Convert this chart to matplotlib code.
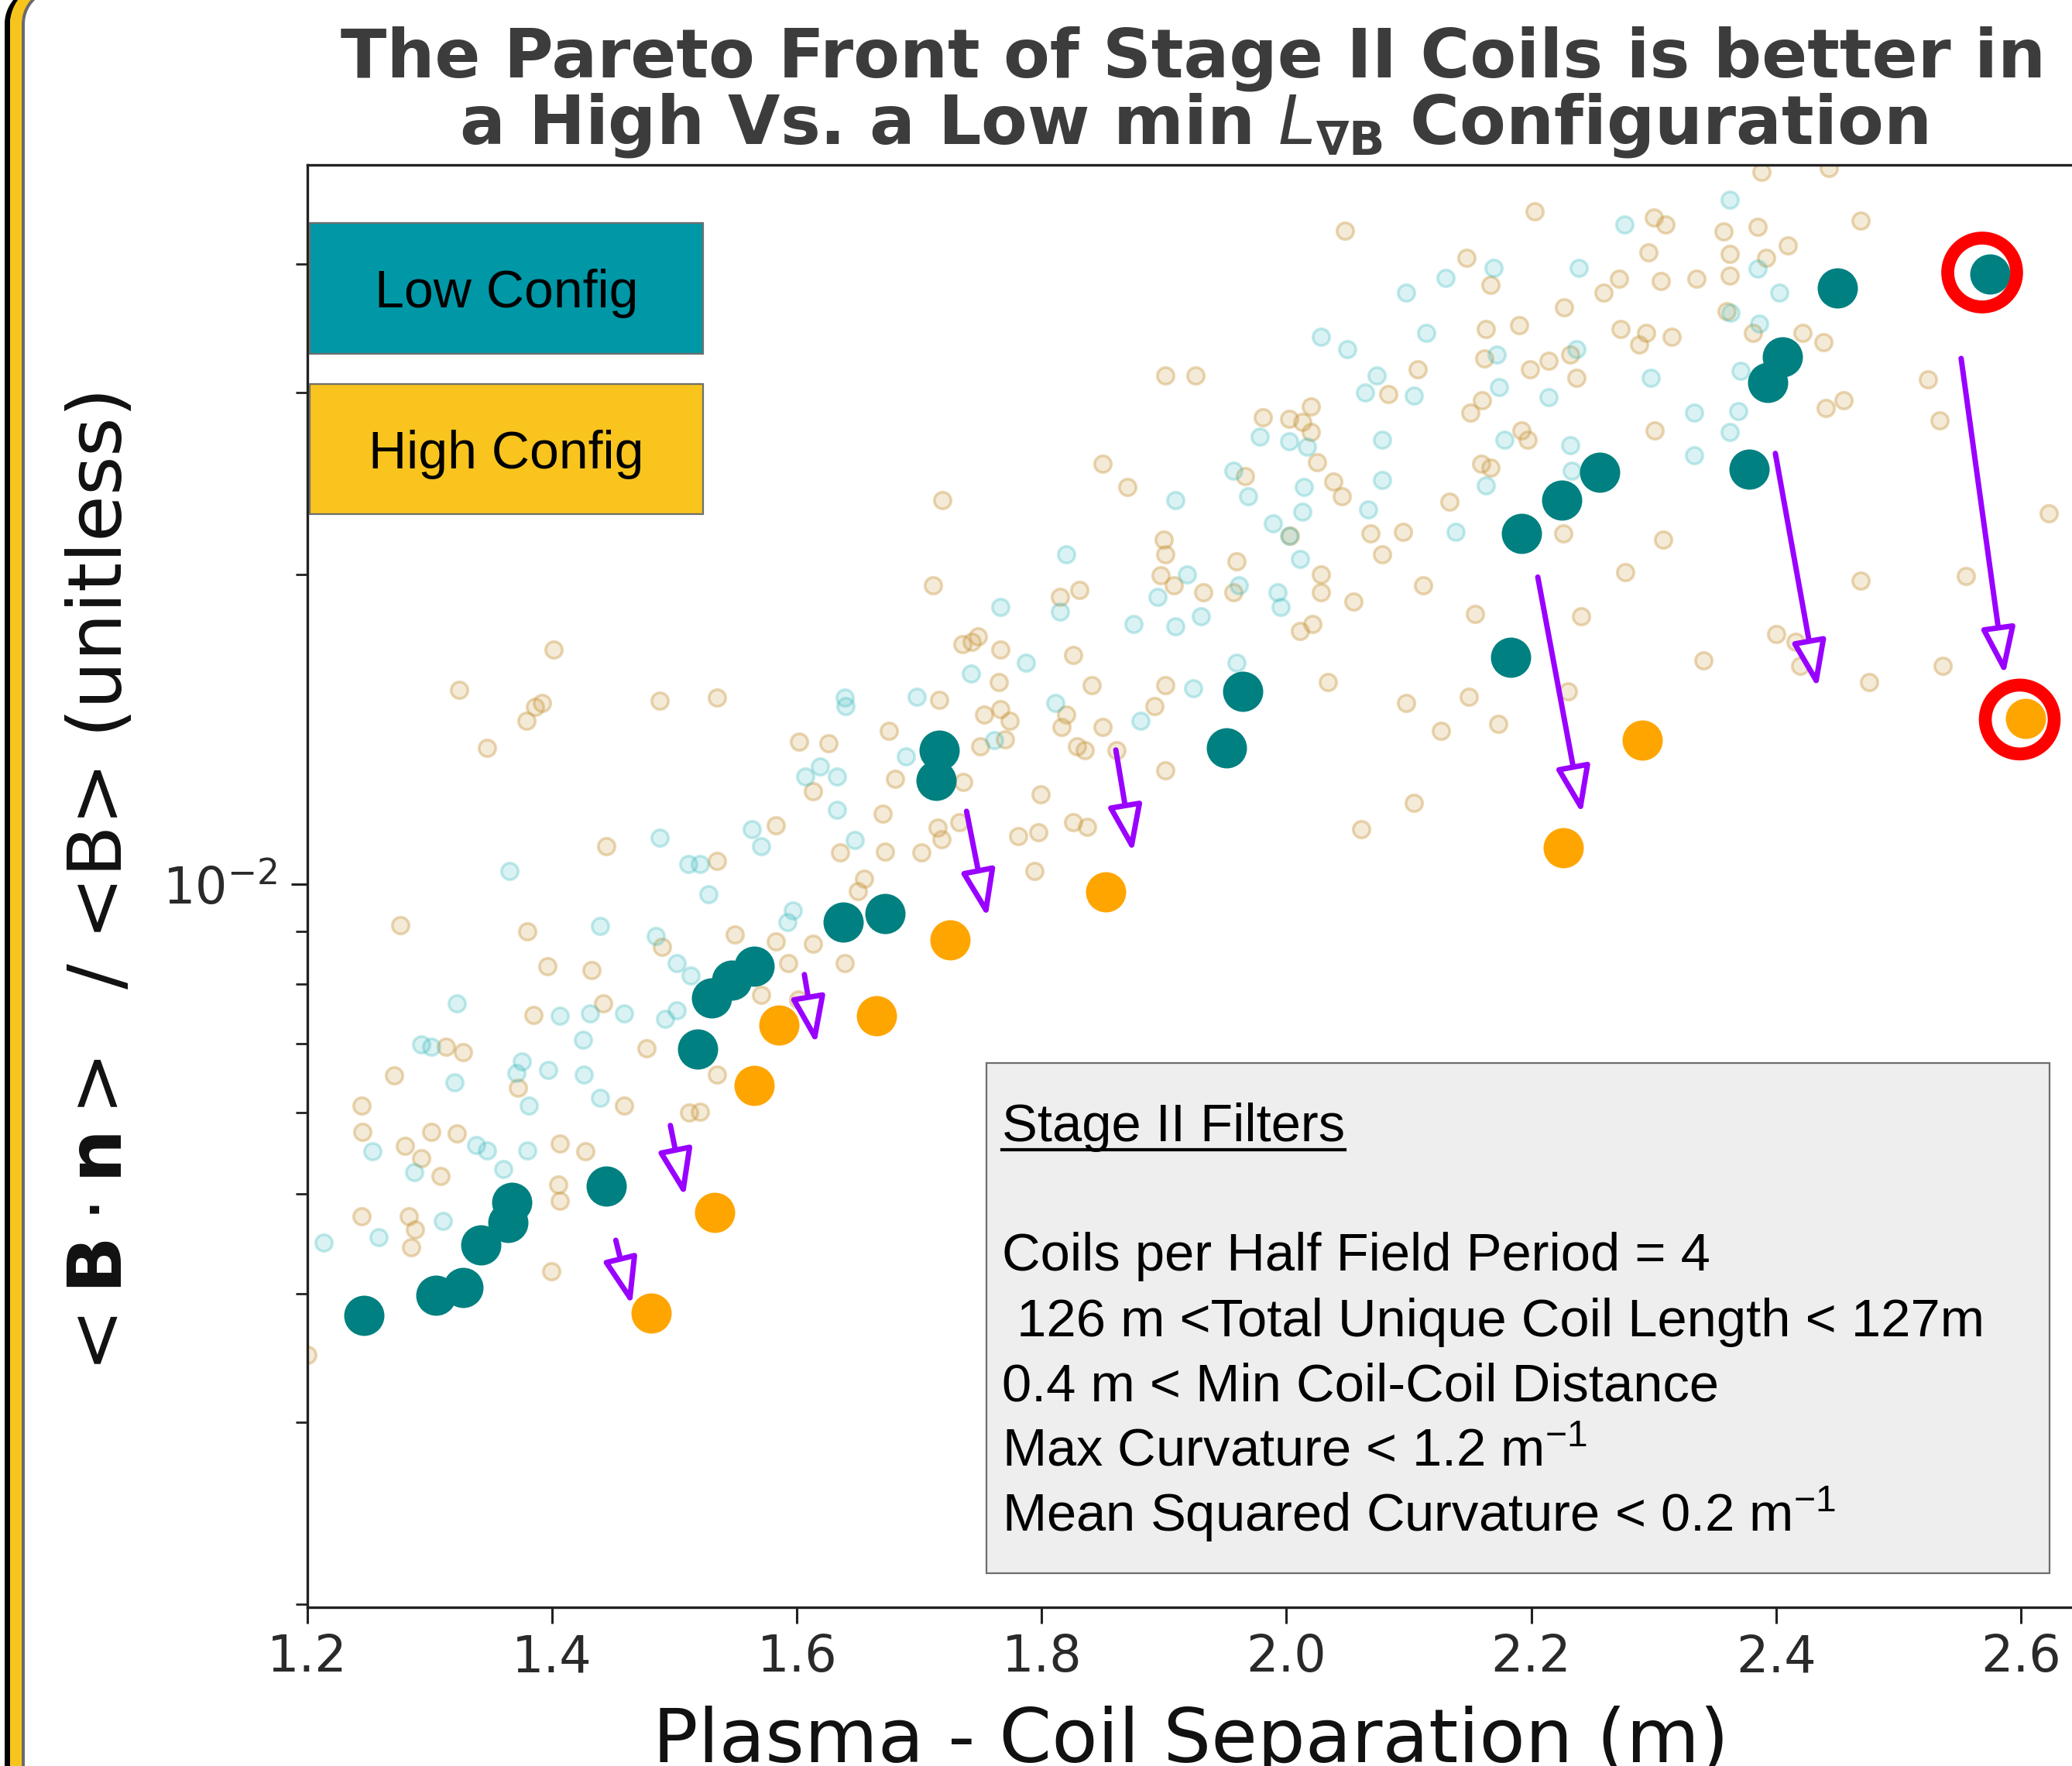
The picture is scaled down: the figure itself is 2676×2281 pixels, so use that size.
import matplotlib
matplotlib.use("Agg")
import matplotlib.pyplot as plt
from matplotlib.patches import Rectangle, PathPatch
from matplotlib.path import Path
from matplotlib.lines import Line2D
from matplotlib.ticker import FixedLocator, NullFormatter, FixedFormatter
from matplotlib.transforms import IdentityTransform

# ---------------- data ----------------
x_ticks = [1.2, 1.4, 1.6, 1.8, 2.0, 2.2, 2.4, 2.6]
x_tick_labels = ["1.2", "1.4", "1.6", "1.8", "2.0", "2.2", "2.4", "2.6"]
y_major_ticks = [1e-2]
y_minor_ticks = [2e-3, 3e-3, 4e-3, 5e-3, 6e-3, 7e-3, 8e-3, 9e-3, 2e-2, 3e-2, 4e-2]

# Pareto front, low min L_gradB configuration
low_front_x = [1.246, 1.305, 1.327, 1.342, 1.364, 1.367, 1.444, 1.519, 1.530, 1.547, 1.565,
               1.638, 1.672, 1.714, 1.716, 1.951, 1.964, 2.183, 2.192, 2.225, 2.256, 2.378,
               2.393, 2.405, 2.450, 2.575]
low_front_y = [3.81e-3, 3.99e-3, 4.06e-3, 4.46e-3, 4.69e-3, 4.91e-3, 5.09e-3, 6.92e-3, 7.75e-3,
               8.07e-3, 8.32e-3, 9.19e-3, 9.36e-3, 1.26e-2, 1.349e-2, 1.355e-2, 1.54e-2, 1.66e-2,
               2.19e-2, 2.36e-2, 2.51e-2, 2.53e-2, 3.07e-2, 3.25e-2, 3.79e-2, 3.91e-2]

# Pareto front, high min L_gradB configuration
high_front_x = [1.481, 1.533, 1.565, 1.585, 1.665, 1.725, 1.852, 2.226, 2.291, 2.604]
high_front_y = [3.83e-3, 4.80e-3, 6.37e-3, 7.30e-3, 7.45e-3, 8.83e-3, 9.82e-3, 1.084e-2,
                1.38e-2, 1.449e-2]

# all stage II coil sets (faint), high configuration
high_all_x = [
    1.385, 1.442, 1.313, 1.327, 1.271, 1.372, 1.477, 1.459, 1.244, 1.245, 1.322, 1.301, 1.280,
    1.293, 1.309, 1.406, 1.427, 1.405, 1.406, 1.244, 1.283, 1.288, 1.285, 1.399, 1.521, 1.512,
    1.535, 1.571, 1.200,
    1.4015, 1.488, 1.535, 1.392, 1.675, 1.602, 1.626, 1.680, 1.736, 1.613, 1.799, 1.670, 1.583,
    1.715, 1.733, 1.718, 1.781, 1.444, 1.635, 1.672, 1.702, 1.794, 1.535, 1.655, 1.650, 1.549,
    1.583, 1.613, 1.490, 1.432, 1.396, 1.593, 1.639, 1.601, 1.766, 1.770,
    1.901, 1.926, 1.850, 1.870, 1.719, 1.981, 2.013, 1.966, 1.900, 1.901, 1.897, 1.908, 1.932,
    1.959, 1.957, 2.011, 2.021, 1.831, 1.815, 1.711, 1.743, 1.735, 1.748, 1.766, 1.826, 1.765,
    1.841, 1.716, 1.753, 1.774, 1.820, 1.816, 1.850, 1.829, 1.835, 1.901, 1.892, 2.034, 1.901,
    1.750, 1.861,
    2.048, 2.203, 2.147, 2.167, 2.300, 2.310, 2.296, 2.272, 2.259, 2.306, 2.335, 2.227, 2.190,
    2.163, 2.107, 2.273, 2.294, 2.288, 2.315, 2.162, 2.199, 2.214, 2.232, 2.237, 2.083, 2.020,
    2.002, 2.020, 2.160, 2.150, 2.192, 2.197, 2.025, 2.038, 2.045, 2.159, 2.167, 2.133, 2.301,
    2.226, 2.069, 2.095, 2.078, 2.308, 2.277, 2.028, 2.028, 2.055, 2.112, 2.154, 2.241, 2.003,
    2.388, 2.443, 2.357, 2.385, 2.410, 2.362, 2.392, 2.362, 2.469, 2.360, 2.381, 2.422, 2.439,
    2.441, 2.455, 2.524, 2.534, 2.623, 2.469, 2.555, 2.400, 2.416, 2.536, 2.476, 2.420, 2.341,
    2.098, 2.149, 2.126, 2.173, 2.230, 2.104, 2.061,
    1.324, 1.347, 1.379, 1.386, 1.276, 1.380, 1.826, 1.837, 1.797]
high_all_y = [
    7.46e-3, 7.66e-3, 6.95e-3, 6.87e-3, 6.52e-3, 6.34e-3, 6.93e-3, 6.09e-3, 6.09e-3, 5.75e-3,
    5.73e-3, 5.75e-3, 5.57e-3, 5.42e-3, 5.21e-3, 5.60e-3, 5.50e-3, 5.11e-3, 4.93e-3, 4.76e-3,
    4.76e-3, 4.62e-3, 4.44e-3, 4.21e-3, 6.01e-3, 6.00e-3, 6.53e-3, 7.80e-3, 3.49e-3,
    1.69e-2, 1.507e-2, 1.517e-2, 1.50e-2, 1.408e-2, 1.374e-2, 1.371e-2, 1.265e-2, 1.257e-2,
    1.230e-2, 1.223e-2, 1.170e-2, 1.14e-2, 1.135e-2, 1.148e-2, 1.106e-2, 1.114e-2, 1.088e-2,
    1.074e-2, 1.076e-2, 1.074e-2, 1.03e-2, 1.054e-2, 1.012e-2, 9.84e-3, 8.94e-3, 8.79e-3,
    8.75e-3, 8.69e-3, 8.25e-3, 8.32e-3, 8.38e-3, 8.38e-3, 7.73e-3, 1.479e-2, 1.383e-2,
    3.12e-2, 3.12e-2, 2.56e-2, 2.43e-2, 2.36e-2, 2.84e-2, 2.81e-2, 2.49e-2, 2.16e-2, 2.09e-2,
    1.995e-2, 1.95e-2, 1.92e-2, 2.06e-2, 1.92e-2, 1.76e-2, 1.79e-2, 1.93e-2, 1.90e-2, 1.95e-2,
    1.72e-2, 1.71e-2, 1.74e-2, 1.69e-2, 1.67e-2, 1.57e-2, 1.56e-2, 1.51e-2, 1.46e-2, 1.44e-2,
    1.46e-2, 1.42e-2, 1.42e-2, 1.36e-2, 1.35e-2, 1.56e-2, 1.49e-2, 1.57e-2, 1.29e-2, 1.36e-2,
    1.35e-2,
    4.31e-2, 4.50e-2, 4.06e-2, 3.82e-2, 4.44e-2, 4.37e-2, 4.11e-2, 3.87e-2, 3.75e-2, 3.85e-2,
    3.87e-2, 3.63e-2, 3.49e-2, 3.46e-2, 3.16e-2, 3.46e-2, 3.43e-2, 3.34e-2, 3.40e-2, 3.24e-2,
    3.16e-2, 3.22e-2, 3.27e-2, 3.10e-2, 2.99e-2, 2.91e-2, 2.83e-2, 2.75e-2, 2.95e-2, 2.87e-2,
    2.76e-2, 2.70e-2, 2.57e-2, 2.46e-2, 2.38e-2, 2.56e-2, 2.54e-2, 2.35e-2, 2.76e-2, 2.19e-2,
    2.19e-2, 2.20e-2, 2.09e-2, 2.16e-2, 2.01e-2, 2.00e-2, 1.92e-2, 1.88e-2, 1.95e-2, 1.83e-2,
    1.82e-2, 2.18e-2,
    4.92e-2, 4.96e-2, 4.30e-2, 4.35e-2, 4.17e-2, 4.09e-2, 4.06e-2, 3.90e-2, 4.41e-2, 3.60e-2,
    3.43e-2, 3.43e-2, 3.36e-2, 2.90e-2, 2.95e-2, 3.09e-2, 2.82e-2, 2.29e-2, 1.97e-2, 1.99e-2,
    1.75e-2, 1.72e-2, 1.63e-2, 1.57e-2, 1.63e-2, 1.65e-2,
    1.50e-2, 1.52e-2, 1.41e-2, 1.43e-2, 1.54e-2, 1.20e-2, 1.13e-2,
    1.543e-2, 1.356e-2, 1.442e-2, 1.486e-2, 9.13e-3, 9.0e-3, 1.149e-2, 1.136e-2, 1.122e-2]

# all stage II coil sets (faint), low configuration
low_all_x = [
    1.322, 1.293, 1.301, 1.406, 1.431, 1.459, 1.425, 1.375, 1.371, 1.397, 1.426, 1.320, 1.381,
    1.439, 1.492, 1.502, 1.253, 1.338, 1.347, 1.380, 1.360, 1.287, 1.311, 1.258, 1.213,
    1.639, 1.640, 1.607, 1.619, 1.633, 1.633, 1.647, 1.563, 1.571, 1.488, 1.511, 1.521, 1.528,
    1.439, 1.485, 1.597, 1.592, 1.502, 1.513,
    1.978, 1.957, 1.969, 1.989, 2.002, 1.909, 1.820, 1.919, 1.895, 1.961, 1.995, 1.766, 1.815,
    1.875, 1.909, 1.930, 1.787, 1.742, 1.698, 1.811, 1.924, 1.959, 1.881, 1.761, 1.689,
    2.276, 2.169, 2.130, 2.098, 2.239, 2.028, 2.050, 2.114, 2.074, 2.064, 2.104, 2.172, 2.174,
    2.214, 2.237, 2.298, 2.333, 2.333, 2.002, 2.017, 2.078, 2.178, 2.078, 2.014, 2.013, 2.067,
    2.138, 2.163, 2.233, 2.011, 2.232, 1.993,
    2.362, 2.385, 2.403, 2.386, 2.371, 2.369, 2.362, 2.363,
    1.365]
low_all_y = [
    7.66e-3, 6.99e-3, 6.95e-3, 7.45e-3, 7.49e-3, 7.49e-3, 7.06e-3, 6.73e-3, 6.56e-3, 6.60e-3,
    6.53e-3, 6.42e-3, 6.09e-3, 6.20e-3, 7.40e-3, 7.54e-3, 5.50e-3, 5.58e-3, 5.51e-3, 5.51e-3,
    5.29e-3, 5.25e-3, 4.71e-3, 4.54e-3, 4.49e-3,
    1.517e-2, 1.49e-2, 1.273e-2, 1.30e-2, 1.273e-2, 1.18e-2, 1.104e-2, 1.13e-2, 1.088e-2,
    1.109e-2, 1.046e-2, 1.046e-2, 9.78e-3, 9.10e-3, 8.91e-3, 9.43e-3, 9.19e-3, 8.38e-3, 8.15e-3,
    2.72e-2, 2.52e-2, 2.38e-2, 2.24e-2, 2.18e-2, 2.36e-2, 2.09e-2, 2.00e-2, 1.90e-2, 1.95e-2,
    1.86e-2, 1.86e-2, 1.84e-2, 1.79e-2, 1.78e-2, 1.82e-2, 1.64e-2, 1.60e-2, 1.52e-2, 1.50e-2,
    1.55e-2, 1.64e-2, 1.44e-2, 1.38e-2, 1.33e-2,
    4.37e-2, 3.97e-2, 3.88e-2, 3.75e-2, 3.97e-2, 3.40e-2, 3.31e-2, 3.43e-2, 3.12e-2, 3.00e-2,
    2.98e-2, 3.27e-2, 3.04e-2, 2.97e-2, 3.31e-2, 3.10e-2, 2.87e-2, 2.61e-2, 2.69e-2, 2.66e-2,
    2.70e-2, 2.70e-2, 2.47e-2, 2.43e-2, 2.30e-2, 2.31e-2, 2.20e-2, 2.44e-2, 2.52e-2, 2.07e-2,
    2.67e-2, 1.92e-2,
    4.62e-2, 3.96e-2, 3.75e-2, 3.50e-2, 3.15e-2, 2.88e-2, 2.75e-2, 3.59e-2,
    1.03e-2]

# arrows from low-config front to high-config front
arrow_start_x = [1.452, 1.4966, 1.6061, 1.7386, 1.8606, 2.2054, 2.3995, 2.5513]
arrow_start_y = [4.51e-3, 5.83e-3, 8.17e-3, 1.177e-2, 1.35e-2, 1.987e-2, 2.62e-2, 3.24e-2]
arrow_end_x = [1.4651, 1.5084, 1.6157, 1.7557, 1.8746, 2.2415, 2.434, 2.587]
arrow_end_y = [3.90e-3, 4.97e-3, 6.99e-3, 9.28e-3, 1.073e-2, 1.17e-2, 1.55e-2, 1.596e-2]

# highlighted (circled) points
highlight_x = [2.5685, 2.5992]
highlight_y = [3.926e-2, 1.445e-2]

title_line1 = "The Pareto Front of Stage II Coils is better in"
title_line2 = r"a High Vs. a Low min $L_{\mathbf{\nabla B}}$ Configuration"
x_label = "Plasma - Coil Separation (m)"
y_label = r"$<\mathbf{B}\cdot\mathbf{n}>$  / <B> (unitless)"
legend_labels = ["Low Config", "High Config"]
filter_title = "Stage II Filters"
filter_lines = [
    "Coils per Half Field Period = 4",
    " 126 m <Total Unique Coil Length < 127m",
    "0.4 m < Min Coil-Coil Distance",
    r"Max Curvature < 1.2 m$\mathregular{^{-1}}$",
    r"Mean Squared Curvature < 0.2 m$\mathregular{^{-1}}$",
]

# ---------------- figure ----------------
W, H = 2676, 2281
DPI = 100
fig = plt.figure(figsize=(W / DPI, H / DPI), dpi=DPI, facecolor="white")


def fx(x):
    return x / W


def fy(y):
    return 1.0 - y / H


AX_L, AX_R, AX_T, AX_B = 397, 2682, 213, 2076
ax = fig.add_axes([fx(AX_L), fy(AX_B), (AX_R - AX_L) / W, (AX_B - AX_T) / H])
ax.set_yscale("log")
ax.set_xlim(1.2, 2.6457)
ax.set_ylim(1.985e-3, 4.994e-2)

TEAL_FAINT = (0.157, 0.706, 0.725)
TAN_FAINT = (0.784, 0.588, 0.235)

ax.scatter(high_all_x, high_all_y, s=240,
           facecolors=[TAN_FAINT + (0.20,)], edgecolors=[TAN_FAINT + (0.38,)],
           linewidths=2.6, zorder=2)
ax.scatter(low_all_x, low_all_y, s=240,
           facecolors=[TEAL_FAINT + (0.17,)], edgecolors=[TEAL_FAINT + (0.27,)],
           linewidths=2.6, zorder=2)

ax.scatter(low_front_x, low_front_y, s=1400, color="#008080", linewidths=0, zorder=3)
ax.scatter(high_front_x, high_front_y, s=1400, color="#FFA500", linewidths=0, zorder=3)

ax.scatter(highlight_x, highlight_y, s=4100, facecolors="none", edgecolors="#FF0000",
           linewidths=12, zorder=4)

for x0, y0, x1, y1 in zip(arrow_start_x, arrow_start_y, arrow_end_x, arrow_end_y):
    ax.annotate("", xy=(x1, y1), xytext=(x0, y0), zorder=5,
                arrowprops=dict(arrowstyle="-|>,head_length=3.7,head_width=1.35",
                                mutation_scale=10, lw=5, ec="#9900FF", fc="white",
                                shrinkA=0, shrinkB=0))

# axes styling
ax.xaxis.set_major_locator(FixedLocator(x_ticks))
ax.xaxis.set_major_formatter(FixedFormatter(x_tick_labels))
ax.yaxis.set_major_locator(FixedLocator(y_major_ticks))
ax.yaxis.set_minor_locator(FixedLocator(y_minor_ticks))
ax.yaxis.set_minor_formatter(NullFormatter())
ax.xaxis.set_minor_locator(FixedLocator([]))
ax.tick_params(which="major", length=15, width=2.2, color="#222222",
               labelsize=47, labelcolor="#2a2a2a")
ax.tick_params(axis="x", which="major", pad=9)
ax.tick_params(axis="y", which="major", pad=13)
ax.tick_params(which="minor", length=10.5, width=2.0, color="#222222")
for side in ["left", "bottom", "top"]:
    ax.spines[side].set_linewidth(2.4)
    ax.spines[side].set_color("#222222")
ax.spines["right"].set_visible(False)

# titles / labels
TITLE_CX = 1541
fig.text(fx(TITLE_CX), fy(100), title_line1, ha="center", va="baseline",
         fontsize=62.7, fontweight="bold", color="#3c3c3c")
fig.text(fx(TITLE_CX), fy(185), title_line2, ha="center", va="baseline",
         fontsize=62.7, fontweight="bold", color="#3c3c3c")
fig.text(fx(1538), fy(2276), x_label, ha="center", va="baseline", fontsize=70,
         color="#111111")
fig.text(fx(131), fy(1148), y_label, ha="center", va="center", rotation=90,
         fontsize=70, color="#111111")

# legend boxes
legend_colors = ["#0098A6", "#F8C41D"]
legend_boxes = [(400, 288, 908, 457), (400, 496, 908, 664)]
legend_baselines = [397, 605]
for lab, col, (x0, y0, x1, y1), bl in zip(legend_labels, legend_colors, legend_boxes,
                                           legend_baselines):
    fig.patches.append(Rectangle((fx(x0), fy(y1)), (x1 - x0) / W, (y1 - y0) / H,
                                 transform=fig.transFigure, facecolor=col,
                                 edgecolor="#6e6e6e", linewidth=1.6, zorder=10))
    fig.text(fx((x0 + x1) / 2), fy(bl), lab, ha="center", va="baseline",
             fontsize=49, family="Liberation Sans", color="black", zorder=11)

# filter box
BX0, BY0, BX1, BY1 = 1274, 1373, 2647, 2032
fig.patches.append(Rectangle((fx(BX0), fy(BY1)), (BX1 - BX0) / W, (BY1 - BY0) / H,
                             transform=fig.transFigure, facecolor="#EEEEEE",
                             edgecolor="#6e6e6e", linewidth=1.6, zorder=10))
TX = 1294
t_title = fig.text(fx(TX), fy(1474), filter_title, ha="left", va="baseline",
                   fontsize=49.5, family="Liberation Sans", color="black", zorder=11)
line_baselines = [1641, 1726, 1809, 1893, 1978]
for txt, bl in zip(filter_lines, line_baselines):
    fig.text(fx(TX), fy(bl), txt, ha="left", va="baseline", fontsize=49.5,
             family="Liberation Sans", color="black", zorder=11)

# underline of the filter title
fig.canvas.draw()
bb = t_title.get_window_extent(fig.canvas.get_renderer())
fig.add_artist(Line2D([bb.x0, bb.x1], [H - 1485, H - 1485], transform=IdentityTransform(),
                      color="black", linewidth=3, zorder=12))

# left decorative frame: black / yellow / gray stripes curving right at the very top
K = 0.5523
R = 45
TOP = H + 14
YC = TOP - R
for xc, lw_px, col in [(9.5, 7, "black"), (20.5, 15, "#F7C41C"), (30, 4, "#6a6a6a")]:
    verts = [(xc, -20), (xc, YC),
             (xc, YC + K * R), (xc + R - K * R, TOP), (xc + R, TOP),
             (xc + 600, TOP)]
    codes = [Path.MOVETO, Path.LINETO, Path.CURVE4, Path.CURVE4, Path.CURVE4, Path.LINETO]
    fig.add_artist(PathPatch(Path(verts, codes), transform=IdentityTransform(),
                             facecolor="none", edgecolor=col,
                             linewidth=lw_px * 72 / DPI, zorder=20))

fig.savefig("out.png", dpi=DPI, facecolor="white")
